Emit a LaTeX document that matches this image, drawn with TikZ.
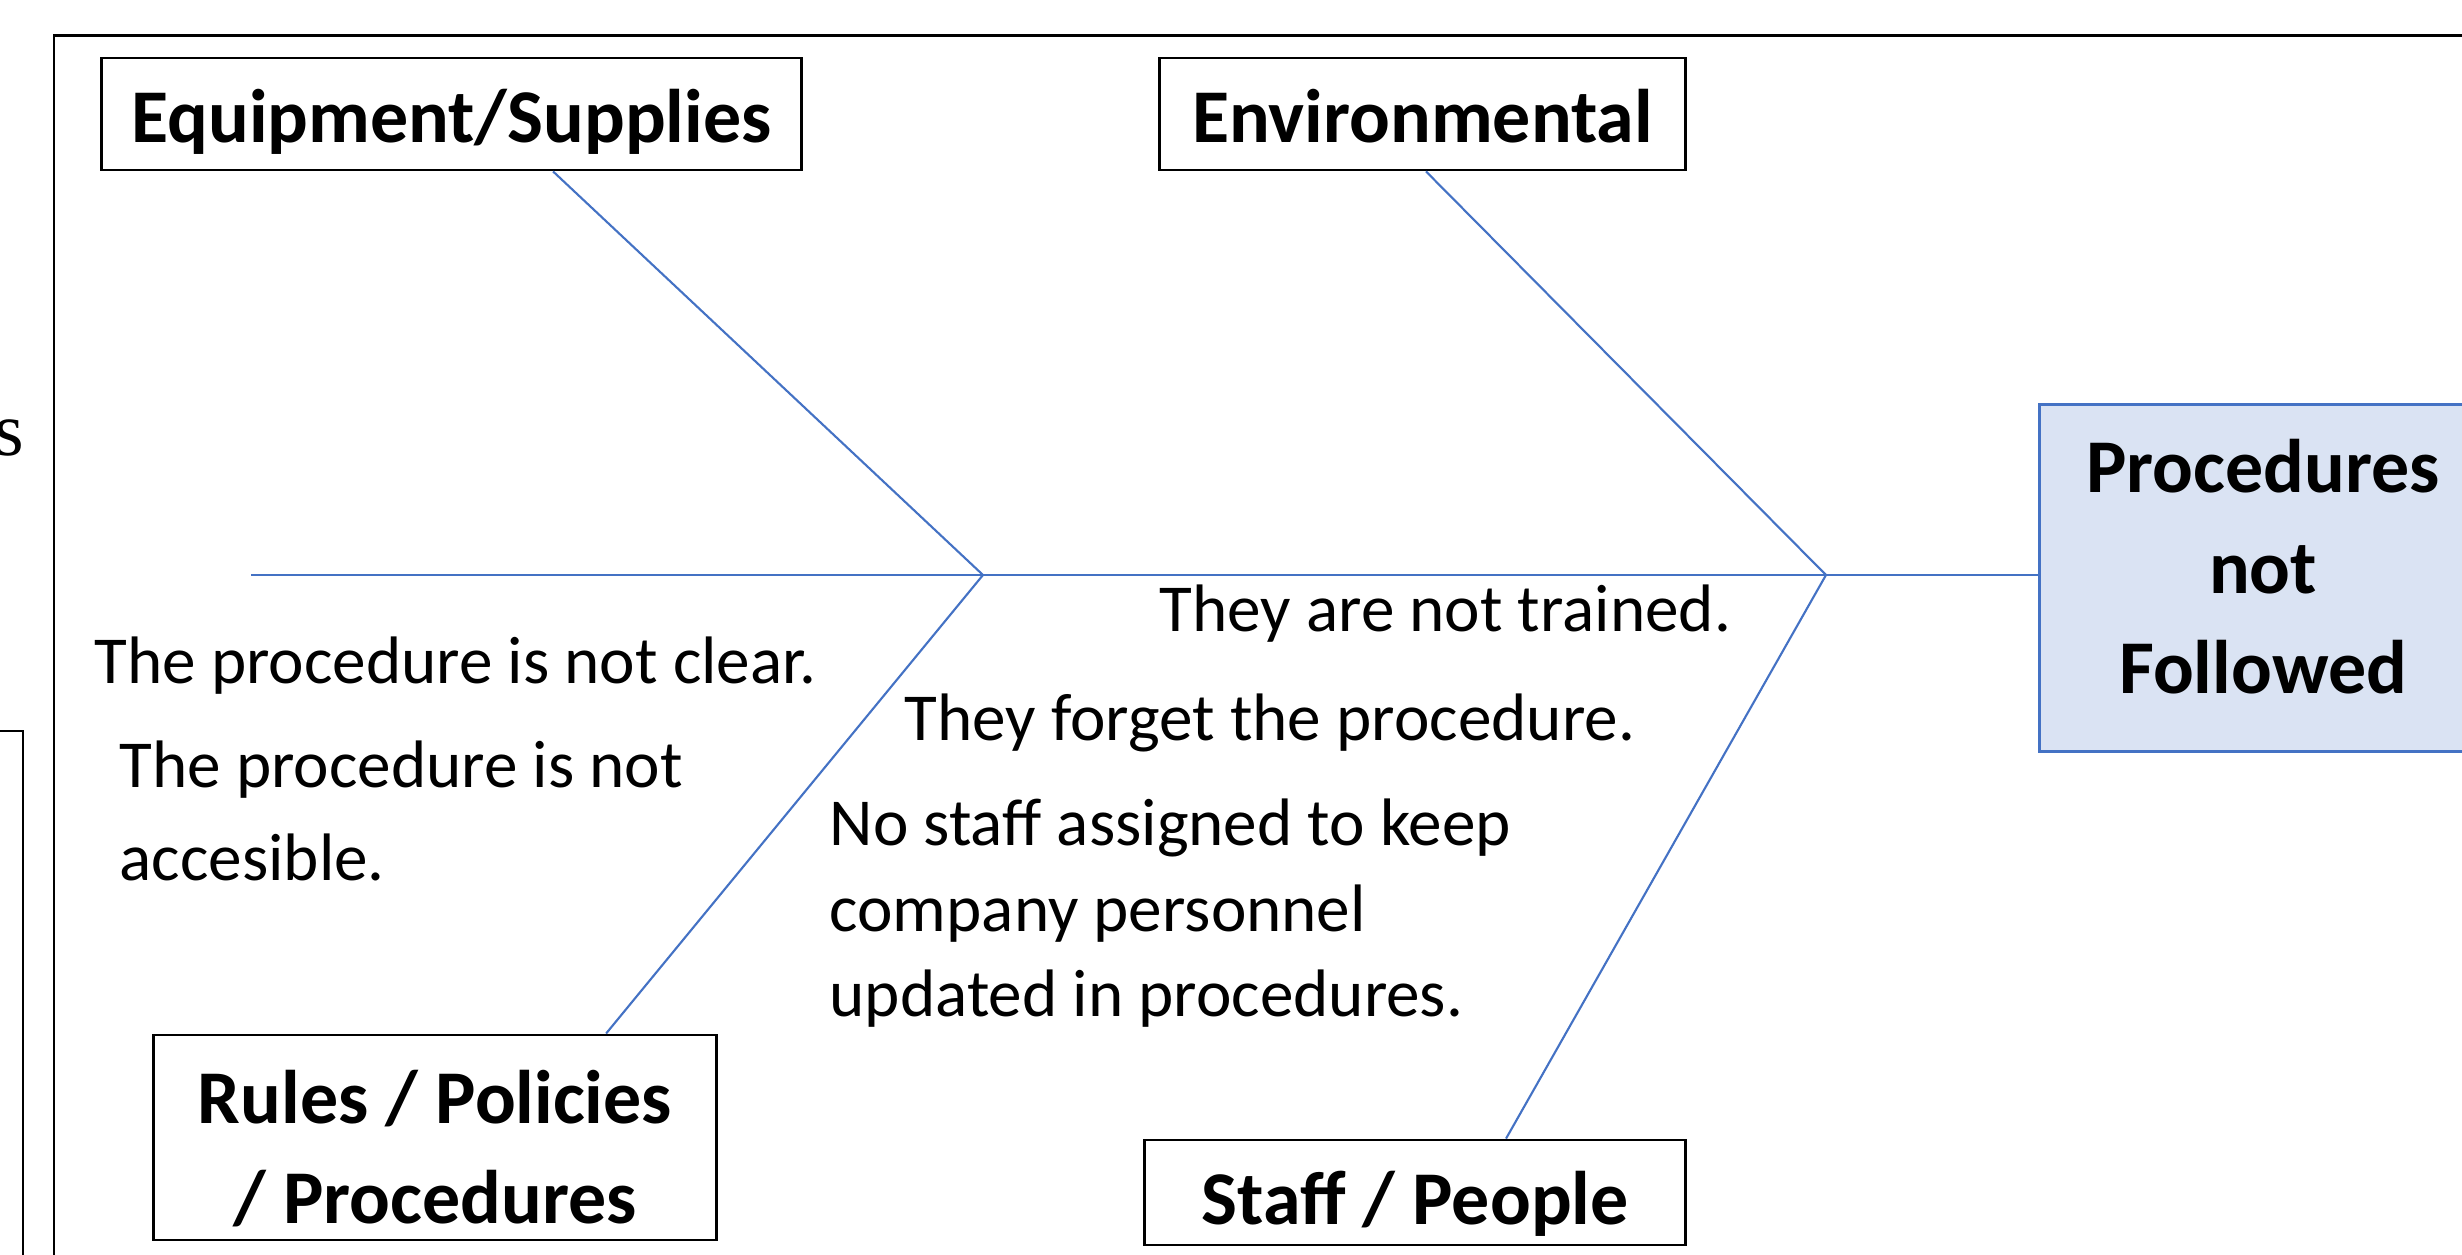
\documentclass[tikz,border=0pt]{standalone}
\usepackage{fontspec}
\setmainfont{Carlito}
\newfontfamily\timesfont{Liberation Serif}
\usetikzlibrary{positioning}
\definecolor{bonecol}{HTML}{4472C4}
\definecolor{headfill}{HTML}{DAE3F3}
\tikzset{
  catbox/.style={draw=black, line width=0.8pt, align=center, inner sep=0pt,
    font=\fontsize{21.6pt}{28.45pt}\selectfont\bfseries},
  cause/.style={anchor=base west, align=left, inner sep=0pt,
    font=\fontsize{19.1pt}{26.2pt}\selectfont},
  bone/.style={draw=bonecol, line width=0.6pt}
}

\begin{document}
\begin{tikzpicture}[x=0.01cm,y=-0.01cm]
        \useasboundingbox (0,0) rectangle (2462,1255);
        \clip (0,0) rectangle (2462,1255);

        % draw outer frame and the cut-off piece on the left
        \draw[line width=0.85pt] (54,36) rectangle (2520,1300);
        \draw[line width=0.85pt] (-50,731) rectangle (23,1300);
        \node[anchor=base east, inner sep=0pt, font=\timesfont\fontsize{21.6pt}{26pt}\selectfont] (frag) at (25,456) {s};

        % draw category boxes
        \node[catbox, text height=0.56cm, text depth=0cm, minimum width=6.99cm, minimum height=1.12cm] (eqp) at (451.5,114) {Equipment/Supplies};
        \node[catbox, text height=0.56cm, text depth=0cm, minimum width=5.25cm, minimum height=1.12cm] (env) at (1422.5,114) {Environmental};
        \node[catbox, text height=1.71cm, text depth=0cm, minimum width=5.62cm, minimum height=2.05cm] (rul) at (435,1137.5) {Rules / Policies\\/ Procedures};
        \node[catbox, text height=0.64cm, text depth=0cm, minimum width=5.40cm, minimum height=1.05cm] (stf) at (1415,1192.5) {Staff / People};

        % draw effect box
        \node[catbox, draw=bonecol, fill=headfill, text height=2.30cm, text depth=0cm, minimum width=4.46cm, minimum height=3.46cm] (head) at (2263,578) {Procedures\\not\\Followed};

        % draw spine and bones
        \coordinate (tail) at (251,575);
        \coordinate (j1) at (983,575);
        \coordinate (j2) at (1826,575);
        \draw[bone] (tail) -- (j1) -- (j2) -- (head.west |- j2);
        \draw[bone] ([xshift=1.015cm]eqp.south) -- (j1) -- ([xshift=1.71cm]rul.north);
        \draw[bone] ([xshift=0.035cm]env.south) -- (j2) -- ([xshift=0.91cm]stf.north);

        % draw causes
        \node[cause] (clear) at (94,684) {The procedure is not clear.};
        \node[cause] (access) at (119,880) {The procedure is not\\accesible.};
        \node[cause] (train) at (1159,632) {They are not trained.};
        \node[cause] (forget) at (904,741) {They forget the procedure.};
        \node[cause, font=\fontsize{19.1pt}{24.4pt}\selectfont] (nostaff) at (829,1017) {No staff assigned to keep\\company personnel\\updated in procedures.};
\end{tikzpicture}
\end{document}
